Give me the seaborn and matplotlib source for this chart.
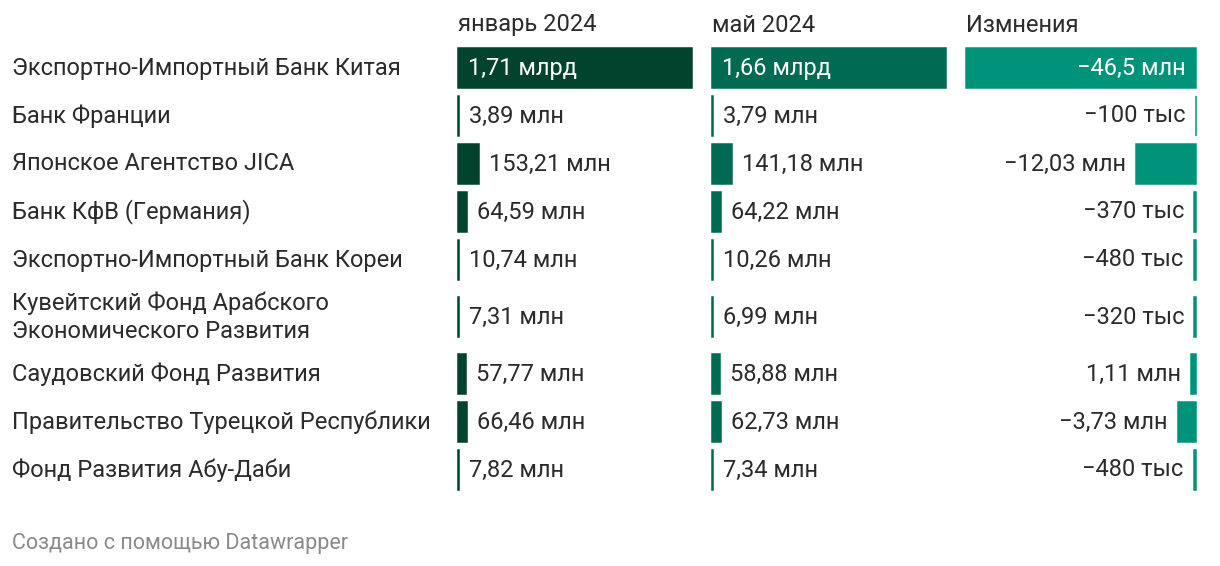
import numpy as np
import pandas as pd
import matplotlib
matplotlib.use("Agg")
import matplotlib.pyplot as plt
import seaborn as sns

# data (values in млн)
lenders = [
    "Экспортно-Импортный Банк Китая",
    "Банк Франции",
    "Японское Агентство JICA",
    "Банк КфВ (Германия)",
    "Экспортно-Импортный Банк Кореи",
    "Кувейтский Фонд Арабского\nЭкономического Развития",
    "Саудовский Фонд Развития",
    "Правительство Турецкой Республики",
    "Фонд Развития Абу-Даби",
]
jan_2024 = [1710, 3.89, 153.21, 64.59, 10.74, 7.31, 57.77, 66.46, 7.82]
may_2024 = [1660, 3.79, 141.18, 64.22, 10.26, 6.99, 58.88, 62.73, 7.34]
change = [-46.5, -0.10, -12.03, -0.37, -0.48, -0.32, 1.11, -3.73, -0.48]
headers = ["январь 2024", "май 2024", "Измнения"]
footer = "Создано с помощью Datawrapper"

colors = ["#01432d", "#016a53", "#00937a"]
text_col = "#2b2b2b"

W, H = 1220, 566
row_h = [48, 48, 48, 48, 48, 66, 48, 48, 48]
top = 44
edges = top + np.concatenate([[0], np.cumsum(row_h)])
centers = (edges[:-1] + edges[1:]) / 2
col_x = [(458, 692), (712, 946), (966, 1196)]
fs = 17


def fmt(v):
    sign = "\u2212" if v < 0 else ""
    a = abs(v)
    if a >= 1000:
        num, unit = a / 1000, "млрд"
    elif a >= 1:
        num, unit = a, "млн"
    else:
        num, unit = a * 1000, "тыс"
    s = f"{num:.2f}".rstrip("0").rstrip(".").replace(".", ",")
    return f"{sign}{s} {unit}"


sns.set_theme(style="white")
plt.rcParams["font.family"] = ["Roboto", "DejaVu Sans"]

fig = plt.figure(figsize=(W / 100, H / 100), dpi=100)
bg = fig.add_axes([0, 0, 1, 1])
bg.set_xlim(0, W)
bg.set_ylim(H, 0)
bg.axis("off")

for name, y in zip(lenders, centers):
    bg.text(12, y, name, ha="left", va="center", fontsize=fs, color=text_col,
            linespacing=1.3)
for h, (x0, x1) in zip(headers, col_x):
    bg.text(x0, 25, h, ha="left", va="center", fontsize=fs, color=text_col)
bg.text(12, 543, footer, ha="left", va="center", fontsize=15.5, color="#8a8a8a")

series = [jan_2024, may_2024, change]
for i, (vals, (x0, x1), col) in enumerate(zip(series, col_x, colors)):
    ax = fig.add_axes([x0 / W, 0, (x1 - x0) / W, 1])
    df = pd.DataFrame({"y": centers, "v": np.abs(vals)})
    sns.barplot(data=df, x="v", y="y", orient="h", native_scale=True,
                color=col, saturation=1, width=40 / 48, errorbar=None,
                edgecolor=col, linewidth=1.1, ax=ax)
    for p in ax.patches:
        p.set_clip_on(False)
    vmax = df["v"].max()
    ax.set_ylim(H, 0)
    if i < 2:
        ax.set_xlim(0, vmax)
    else:
        ax.set_xlim(vmax, 0)
    ax.axis("off")
    sgn = 1 if i < 2 else -1
    ha = "left" if i < 2 else "right"
    for v, a, y in zip(vals, df["v"], centers):
        if a / vmax > 0.5:
            ax.annotate(fmt(v), xy=(0, y), xytext=(sgn * 7.2, 0),
                        textcoords="offset points", ha=ha, va="center",
                        fontsize=fs, color="white")
        else:
            ax.annotate(fmt(v), xy=(a, y), xytext=(sgn * 7.2, 0),
                        textcoords="offset points", ha=ha, va="center",
                        fontsize=fs, color=text_col)

fig.savefig("out.png", dpi=100)
